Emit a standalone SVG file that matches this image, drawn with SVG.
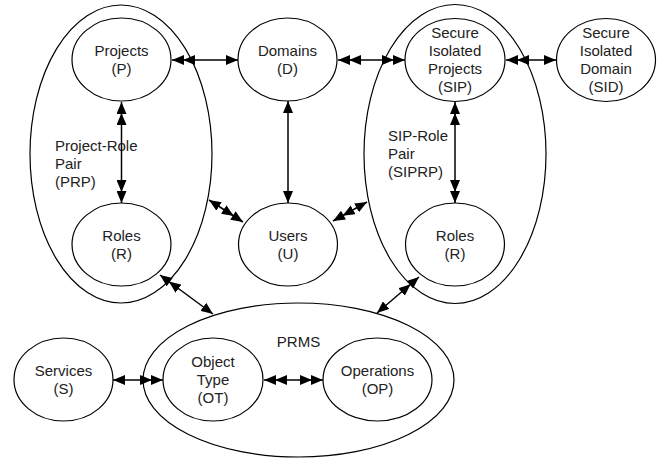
<svg xmlns="http://www.w3.org/2000/svg" width="665" height="462" viewBox="0 0 665 462">
<style>
.n{fill:#fff;stroke:#000;stroke-width:1.2}
.o{fill:none;stroke:#000;stroke-width:1.2}
text{font-family:"Liberation Sans",Arial,sans-serif;font-size:15px;fill:#222;text-anchor:middle}
text.l{text-anchor:start}
.c line{stroke:#000;stroke-width:1.5}
.s1{marker-start:url(#h1)}
.s2{marker-start:url(#h2)}
.e1{marker-end:url(#h1)}
.e2{marker-end:url(#h2)}
</style>
<defs>
<marker id="h1" viewBox="0 0 12 10" refX="12" refY="5" markerWidth="12" markerHeight="10" markerUnits="userSpaceOnUse" orient="auto-start-reverse"><path d="M0,0L12,5L0,10z" fill="#000"/></marker>
<marker id="h2" viewBox="0 0 23 10" refX="23" refY="5" markerWidth="23" markerHeight="10" markerUnits="userSpaceOnUse" orient="auto-start-reverse"><path d="M0,0L12,5L0,10zM11,0L23,5L11,10z" fill="#000"/></marker>
</defs>
<g id="PRP"><ellipse class="o" cx="121" cy="154" rx="91" ry="149"/><text class="l" x="55" y="151">Project-Role</text><text class="l" x="55" y="169">Pair</text><text class="l" x="55" y="187">(PRP)</text></g>
<g id="SIPRP"><ellipse class="o" cx="455" cy="154" rx="91" ry="149.5"/><text class="l" x="388" y="141">SIP-Role</text><text class="l" x="388" y="159">Pair</text><text class="l" x="388" y="177">(SIPRP)</text></g>
<g id="PRMS"><ellipse class="o" cx="298.5" cy="380" rx="155.5" ry="77"/><text x="298.5" y="347">PRMS</text></g>
<g id="P"><ellipse class="n" cx="121.5" cy="59.5" rx="49.5" ry="41.5"/><text x="121.5" y="56">Projects</text><text x="121.5" y="74">(P)</text></g>
<g id="D"><ellipse class="n" cx="287.5" cy="59.5" rx="49.5" ry="41.5"/><text x="287.5" y="56">Domains</text><text x="287.5" y="74">(D)</text></g>
<g id="SIP"><ellipse class="n" cx="455" cy="60" rx="50" ry="41.5"/><text x="455" y="38">Secure</text><text x="455" y="56">Isolated</text><text x="455" y="74">Projects</text><text x="455" y="92">(SIP)</text></g>
<g id="SID"><ellipse class="n" cx="606" cy="60" rx="49.5" ry="41.5"/><text x="606" y="38">Secure</text><text x="606" y="56">Isolated</text><text x="606" y="74">Domain</text><text x="606" y="92">(SID)</text></g>
<g id="R1"><ellipse class="n" cx="121.5" cy="244.5" rx="49.5" ry="41.5"/><text x="121.5" y="241">Roles</text><text x="121.5" y="259">(R)</text></g>
<g id="U"><ellipse class="n" cx="288" cy="244.5" rx="49.5" ry="41.5"/><text x="288" y="241">Users</text><text x="288" y="259">(U)</text></g>
<g id="R2"><ellipse class="n" cx="455" cy="244.5" rx="49.5" ry="41.5"/><text x="455" y="241">Roles</text><text x="455" y="259">(R)</text></g>
<g id="S"><ellipse class="n" cx="63.5" cy="379.5" rx="49.5" ry="41.5"/><text x="63.5" y="376">Services</text><text x="63.5" y="394">(S)</text></g>
<g id="OT"><ellipse class="n" cx="213" cy="379.5" rx="50" ry="41.5"/><text x="213" y="367">Object</text><text x="213" y="385">Type</text><text x="213" y="403">(OT)</text></g>
<g id="OP"><ellipse class="n" cx="377.5" cy="379.5" rx="54.5" ry="41.5"/><text x="377.5" y="376">Operations</text><text x="377.5" y="394">(OP)</text></g>
<g class="c" id="connectors">
<line class="s2 e1" x1="172" y1="60" x2="238" y2="60"/>
<line class="s2 e2" x1="338" y1="60" x2="405" y2="60"/>
<line class="s2 e1" x1="506" y1="60" x2="556" y2="60"/>
<line class="s2 e2" x1="121.5" y1="102" x2="121.5" y2="203"/>
<line class="s1 e1" x1="288" y1="101" x2="288" y2="203"/>
<line class="s2 e2" x1="455" y1="102" x2="455" y2="203"/>
<line class="s1 e2" x1="209" y1="200" x2="243" y2="222"/>
<line class="s2 e1" x1="333" y1="221" x2="367" y2="202"/>
<line class="s2 e1" x1="160" y1="275" x2="213" y2="314"/>
<line class="s2 e1" x1="419" y1="277" x2="377" y2="313"/>
<line class="s1 e2" x1="113" y1="380" x2="163" y2="380"/>
<line class="s2 e2" x1="264" y1="380" x2="323" y2="380"/>
</g>
</svg>
